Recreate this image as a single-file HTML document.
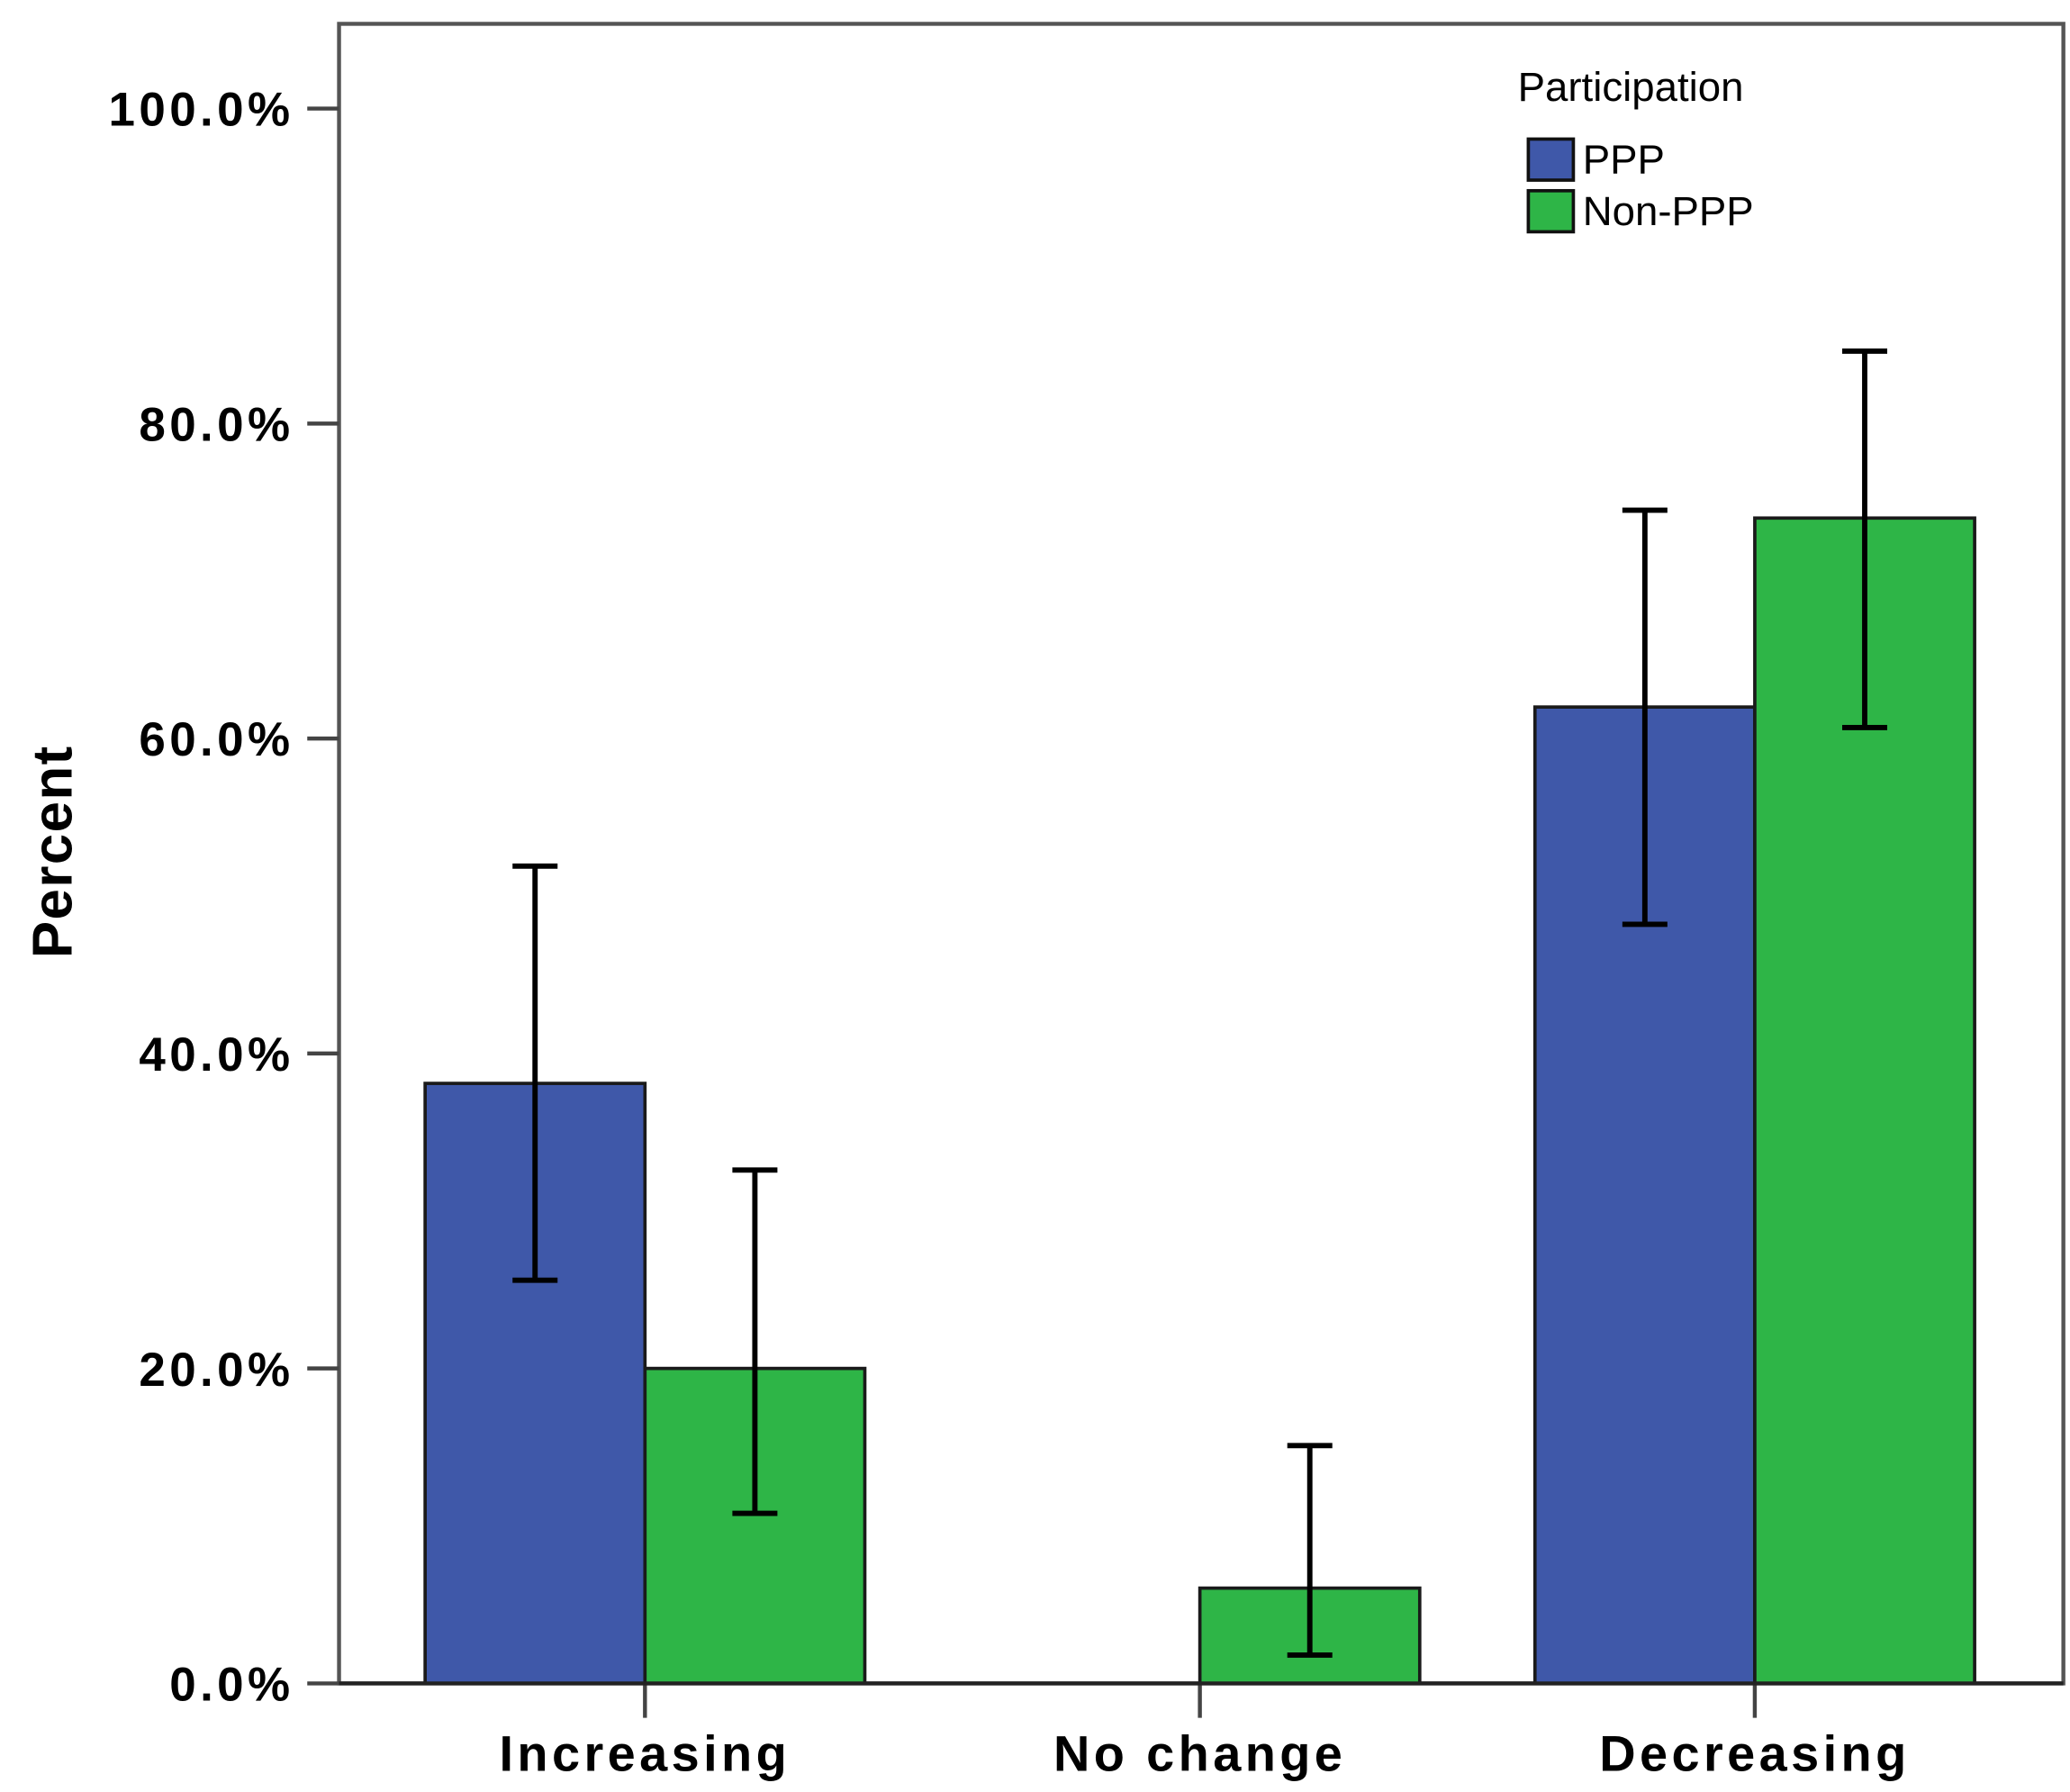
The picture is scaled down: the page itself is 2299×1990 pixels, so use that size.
<!DOCTYPE html>
<html><head><meta charset="utf-8"><style>
html,body{margin:0;padding:0;background:#fff}
svg{display:block}
text{font-family:"Liberation Sans",Arial,sans-serif}
</style></head><body>
<svg id="chart" width="2299" height="1990" viewBox="0 0 1563 1353" preserveAspectRatio="none" xmlns="http://www.w3.org/2000/svg">
<rect x="0" y="0" width="1563" height="1353" fill="#fff"/>
<rect x="256" y="18" width="1302" height="1253" fill="none" stroke="#555" stroke-width="3"/>
<g id="grid"></g>
<g id="bars"></g>
<g id="errs"></g>
<g id="axes"></g>
<text transform="translate(54,643) rotate(-90)" text-anchor="middle" font-size="42" font-weight="bold" letter-spacing="1">Percent</text>
<g>
<text x="1146" y="76" font-size="31">Participation</text>
<g>
<rect x="1154" y="105" width="34" height="31" fill="#3f58a9" stroke="#111" stroke-width="2.5"/>
<text x="1195" y="131" font-size="31">PPP</text></g>
<g>
<rect x="1154" y="144" width="34" height="31" fill="#2eb547" stroke="#111" stroke-width="2.5"/>
<text x="1195" y="170" font-size="31">Non-PPP</text></g>
</g>
</svg>
<script>
const categories = ["Increasing","No change","Decreasing"];
const pppValues = [38.1, 0, 62.0];
const pppLow = [25.6, 0, 48.2];
const pppHigh = [51.9, 0, 74.5];
const nonValues = [20.0, 6.05, 74.0];
const nonLow = [10.8, 1.8, 60.7];
const nonHigh = [32.6, 15.1, 84.6];
const yTicks = [0,20,40,60,80,100];
const yTickLabels = ["0.0%","20.0%","40.0%","60.0%","80.0%","100.0%"];

const NS="http://www.w3.org/2000/svg";
const y0=1271, pxPer=11.89;
function yScale(v){return y0 - v*pxPer;}
function xCenter(i){return 487 + i*419;}
const bw=166;
function mk(tag,attrs,parent){const e=document.createElementNS(NS,tag);for(const k in attrs)e.setAttribute(k,attrs[k]);document.getElementById(parent).appendChild(e);return e;}

yTicks.forEach((t,i)=>{
  const l=mk('line',{x1:232,x2:256,y1:yScale(t),y2:yScale(t),stroke:'#444','stroke-width':3},'axes');
  
  
  const tx=mk('text',{x:222,y:yScale(t)+13,'text-anchor':'end','font-size':36,'font-weight':'bold','letter-spacing':'3'},'axes');
  tx.textContent=yTickLabels[i];
  
  
});
categories.forEach((c,i)=>{
  const cx=xCenter(i);
  const l=mk('line',{x1:cx,x2:cx,y1:y0,y2:y0+26,stroke:'#444','stroke-width':3},'axes');
  
  
  const tx=mk('text',{x:cx,y:1337,'text-anchor':'middle','font-size':38,'font-weight':'bold','letter-spacing':'3'},'axes');
  tx.textContent=c;
  
  
  const series=[[pppValues,pppLow,pppHigh,'#3f58a9',-bw,'ppp'],[nonValues,nonLow,nonHigh,'#2eb547',0,'non-ppp']];
  series.forEach(s=>{
    const v=s[0][i]; if(v<=0) return;
    const x=cx+s[4];
    const r=mk('rect',{x:x,y:yScale(v),width:bw,height:y0-yScale(v),fill:s[3],stroke:'#1a1a1a','stroke-width':2.5},'bars');
    
    
    const ex=x+bw/2, lo=yScale(s[1][i]), hi=yScale(s[2][i]);
    const g=mk('g',{stroke:'#000','stroke-width':4},'errs');
    
    
    [[ex,ex,lo,hi],[ex-17,ex+17,lo,lo],[ex-17,ex+17,hi,hi]].forEach(a=>{
      const ln=document.createElementNS(NS,'line');
      ln.setAttribute('x1',a[0]);ln.setAttribute('x2',a[1]);ln.setAttribute('y1',a[2]);ln.setAttribute('y2',a[3]);
      g.appendChild(ln);
    });
  });
});
const ax=mk('line',{x1:256,x2:1558,y1:y0,y2:y0,stroke:'#222','stroke-width':3},'axes');


</script>
</body></html>
